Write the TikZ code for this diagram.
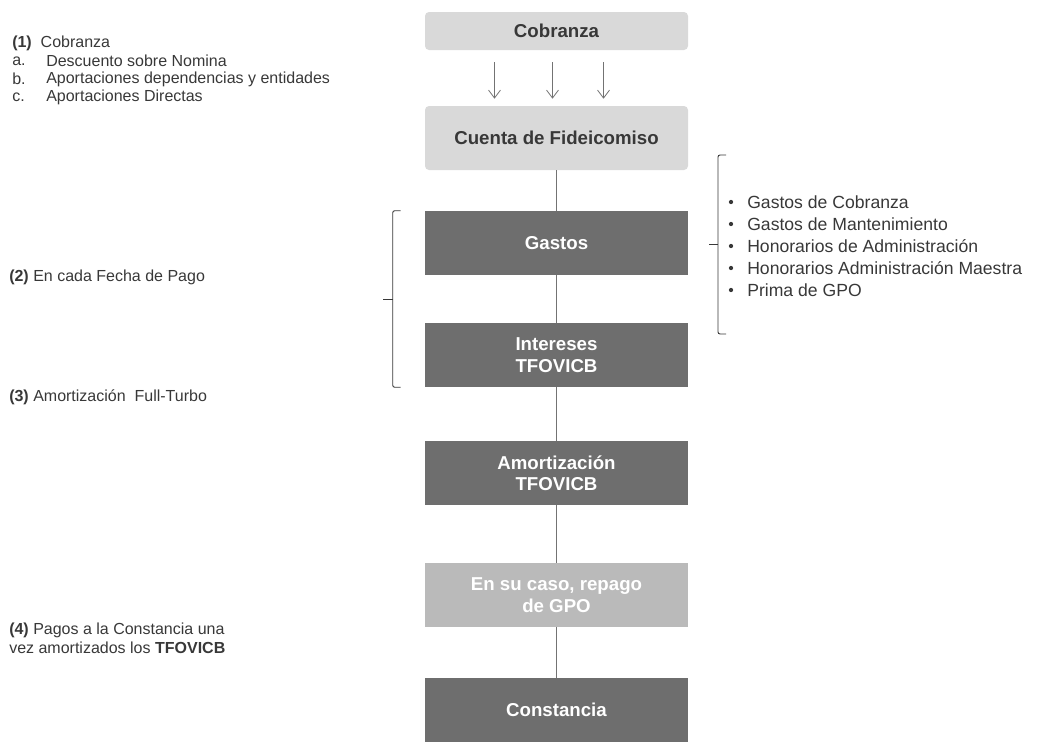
\documentclass[tikz,border=0pt]{standalone}
\usepackage{fontspec}
\setmainfont{Liberation Sans}
\usetikzlibrary{calc, positioning}
\usetikzlibrary{arrows.meta}
\definecolor{lightfill}{gray}{0.85}
\definecolor{midfill}{gray}{0.73}
\definecolor{darkfill}{gray}{0.43}
\definecolor{wire}{gray}{0.45}
\definecolor{ink}{gray}{0.22}
\def\bw{263}
\def\bh{64}
\tikzset{
    stage/.style = {
        rectangle, minimum width=\bw*0.75pt, minimum height=\bh*0.75pt, inner sep=0pt, align=center,
        font=\bfseries\fontsize{14}{16}\selectfont
    },
    lightstage/.style = {stage, fill=lightfill, text=ink, rounded corners=3pt},
    midstage/.style = {stage, fill=midfill, text=white},
    darkstage/.style = {stage, fill=darkfill, text=white},
    note/.style = {anchor=west, inner sep=0pt, text=ink, align=left, font=\fontsize{12}{14}\selectfont},
    costnote/.style = {note, font=\fontsize{13.2}{15}\selectfont},
    dot/.style = {circle, fill=ink, inner sep=0pt, minimum size=3.2pt},
    wireline/.style = {draw=wire, line width=0.6pt},
    feed/.style = {wireline, -{Straight Barb[length=6pt, width=9pt]}},
    brace/.style = {draw=ink, line width=0.7pt, rounded corners=1.5pt},
}
\begin{document}
\begin{tikzpicture}[x=0.75pt, y=-0.75pt]
        \useasboundingbox (0,0) rectangle (1059,743);

        % Place the blocks
        \node [lightstage, minimum height=38*0.75pt] (cob) at (556.5, 31) {Cobranza};
        \node [lightstage] (cuenta) at (556.5, 138) {Cuenta de Fideicomiso};
        \node [darkstage] (gastos) at (556.5, 243) {Gastos};
        \node [darkstage] (intereses) at (556.5, 355) {Intereses\\TFOVICB};
        \node [darkstage] (amort) at (556.5, 473) {Amortización\\TFOVICB};
        \node [midstage] (repago) at (556.5, 595) {En su caso, repago\\de GPO};
        \node [darkstage] (const) at (556.5, 710) {Constancia};

        % Draw connections
        \foreach \dx in {-62, -4, 47}{
            \draw[feed] ($(cob.south)+(\dx,12)$) -- ($(cuenta.north)+(\dx,-7)$);
        }
        \draw[wireline] (cuenta) -- (gastos);
        \draw[wireline] (gastos) -- (intereses);
        \draw[wireline] (intereses) -- (amort);
        \draw[wireline] (amort) -- (repago);
        \draw[wireline] (repago) -- (const);

        % Notes on the left
        \node [note] (step1) at (12, 43) {\textbf{(1)}\ \ Cobranza};
        \foreach \lbl/\txt [count=\i] in {a./Descuento sobre Nomina, b./Aportaciones dependencias y entidades, c./Aportaciones Directas}{
            \node [note] (lbl\i) at (12, 43+18*\i) {\lbl};
            \node [note] (item\i) at (46, 43+18*\i) {\txt};
        }
        \node [note] (step2) at (9, 277) {\textbf{(2)} En cada Fecha de Pago};
        \node [note] (step3) at (9, 397) {\textbf{(3)} Amortización\ \ Full-Turbo};
        \node [note] (step4) at (9, 638) {\textbf{(4)} Pagos a la Constancia una\\vez amortizados los \textbf{TFOVICB}};

        % Costs on the right
        \foreach \txt [count=\i] in {Gastos de Cobranza, Gastos de Mantenimiento, Honorarios de Administración, Honorarios Administración Maestra, Prima de GPO}{
            \node [dot] (dot\i) at (731, 180+22*\i) {};
            \node [costnote] (cost\i) at (747, 180+22*\i) {\txt};
        }

        % Braces
        \draw[brace] ($(gastos.north west)+(-24,0)$) -| ($(intereses.south west)+(-32,0)$) -- ++(8,0);
        \draw[brace] ($(gastos.north west)!0.5!(intereses.south west)+(-32,0)$) -- ++(-10,0);
        \coordinate (rtop) at (726, 155);
        \coordinate (rbot) at (726, 334);
        \draw[brace] (rtop) -- ++(-8,0) |- (rbot);
        \draw[brace] ($(rtop)!0.5!(rbot)+(-8,0)$) -- ++(-9,0);
\end{tikzpicture}
\end{document}
